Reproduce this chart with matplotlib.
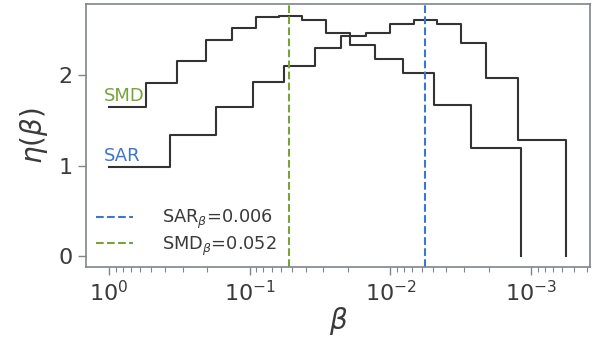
import numpy as np
import matplotlib
matplotlib.use('Agg')
import matplotlib.pyplot as plt

# bin edges (beta, descending) and densities
smd_edges = [1.0, 0.5466, 0.3294, 0.2051, 0.1342, 0.0907, 0.0623, 0.0428,
             0.0289, 0.0195, 0.01278, 0.00809, 0.00487, 0.00266, 0.001177]
smd_eta = [1.65, 1.92, 2.16, 2.39, 2.53, 2.65, 2.66, 2.61, 2.47, 2.34,
           2.18, 2.03, 1.67, 1.20]

sar_edges = [1.0, 0.3694, 0.1742, 0.0952, 0.0574, 0.0346, 0.02263, 0.01504,
             0.0100, 0.00676, 0.00464, 0.00314, 0.002085, 0.001237, 0.000565]
sar_eta = [0.99, 1.34, 1.65, 1.93, 2.10, 2.30, 2.44, 2.47, 2.57, 2.61,
           2.57, 2.36, 1.97, 1.28]

sar_beta = 0.0057
smd_beta = 0.0524

c_text = '#3a3a3a'
c_spine = '#7f858c'
c_green = '#76a33a'
c_blue = '#3b76cf'
c_line = '#333333'

plt.rcParams['text.color'] = c_text
plt.rcParams['axes.labelcolor'] = c_text
plt.rcParams['xtick.color'] = c_spine
plt.rcParams['ytick.color'] = c_spine
plt.rcParams['xtick.labelcolor'] = c_text
plt.rcParams['ytick.labelcolor'] = c_text

fig = plt.figure(figsize=(6.01, 3.41), dpi=100)
ax = fig.add_axes([0.143, 0.217, 0.8387, 0.771])

for edges, eta in [(smd_edges, smd_eta), (sar_edges, sar_eta)]:
    ax.plot(edges, list(eta) + [0], drawstyle='steps-post', color=c_line, lw=1.5)

ax.axvline(sar_beta, color=c_blue, ls='--', lw=1.5, label=r'SAR$_\beta$=%.3f' % sar_beta)
ax.axvline(smd_beta, color=c_green, ls='--', lw=1.5, label=r'SMD$_\beta$=%.3f' % smd_beta)

ax.text(1.085, smd_eta[0] + 0.02, 'SMD', color=c_green, fontsize=13, ha='left', va='bottom')
ax.text(1.085, sar_eta[0] + 0.02, 'SAR', color=c_blue, fontsize=13, ha='left', va='bottom')

ax.set_xscale('log')
ax.set_xlim(1.46, 3.82e-4)
ax.set_ylim(-0.122, 2.79)
ax.set_yticks([0, 1, 2])

ax.set_xlabel(r'$\beta$', fontsize=20, labelpad=0)
ax.set_ylabel(r'$\eta(\beta)$', fontsize=20, labelpad=6)
ax.tick_params(axis='both', which='major', labelsize=16, length=6, width=1)
ax.tick_params(axis='both', which='minor', length=3.5, width=0.8)

for s in ax.spines.values():
    s.set_color(c_spine)
    s.set_linewidth(1.2)

ax.legend(loc='lower left', frameon=False, fontsize=12.8, handlelength=2.1,
          handletextpad=1.6, labelspacing=0.2, bbox_to_anchor=(-0.012, -0.025))

fig.savefig('out.png', dpi=100)
